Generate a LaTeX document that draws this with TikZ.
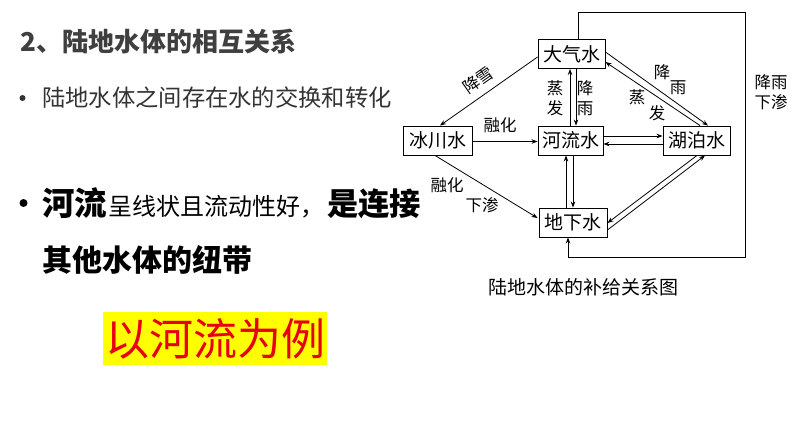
\documentclass[tikz,border=0pt]{standalone}
\usepackage{fontspec}
\setmainfont{Noto Sans CJK SC}
\usetikzlibrary{arrows.meta,calc}
\newcommand{\fsz}[1]{\fontsize{#1}{#1}\selectfont}
\definecolor{titlegray}{HTML}{3F3F3F}
\definecolor{bodygray}{HTML}{333333}
\definecolor{hlred}{HTML}{E60012}
\definecolor{hlyellow}{HTML}{FFFF00}
\tikzset{
  box/.style={draw, line width=0.9pt, inner sep=0pt, minimum height=29pt, font=\fsz{19}},
  lab/.style={inner sep=0pt, align=center, font=\fontsize{16.5}{20}\selectfont},
  flow/.style={line width=0.8pt, -{Stealth[length=6pt,width=4.5pt]}},
  txt/.style={inner sep=0pt, anchor=base west}
}
\begin{document}
\begin{tikzpicture}[x=1pt,y=-1pt]
\useasboundingbox (0,0) rectangle (794,447);
\fill[white] (0,0) rectangle (794,447);

% ---- left text ----
\node[txt, text=titlegray, font=\fsz{26}\bfseries] (title) at (20,51) {2、陆地水体的相互关系};
\fill[bodygray] (22.5,98) circle (3);
\node[txt, text=bodygray, font=\fsz{23.3}] (b1) at (42,106) {陆地水体之间存在水的交换和转化};
\fill (23.5,203) circle (4);
\node[txt] (b2) at (42,215) {{\fsz{32.5}\bfseries 河流}\hspace{1pt}{\fsz{24}呈线状且流动性好，}\hspace{3pt}{\fsz{31.3}\bfseries 是连接}};
\node[txt, font=\fsz{30}\bfseries] (b3) at (42,271) {其他水体的纽带};
\node[fill=hlyellow, text=hlred, inner sep=0pt, minimum width=224pt, minimum height=53pt, font=\fsz{44}] (ex) at (215,338.5) {以河流为例};

% ---- diagram nodes ----
\node[box, minimum width=67pt] (dq) at (571.5,54) {大气水};
\node[box, minimum width=69pt] (bc) at (437.5,140.5) {冰川水};
\node[box, minimum width=65pt] (hl) at (570.5,140.5) {河流水};
\node[box, minimum width=67pt] (hp) at (696.5,140.5) {湖泊水};
\node[box, minimum width=68pt] (dx) at (573,222.5) {地下水};

% ---- connectors ----
\draw[flow] ($(dq.west)+(0,3)$) -- ($(bc.north)+(2.5,0)$);
\draw[flow] ($(hl.north)+(-0.5,0)$) -- ($(dq.south)+(-1.5,0)$);
\draw[flow] ($(dq.south)+(4.5,0)$) -- ($(hl.north)+(5.5,0)$);
\draw[flow] ($(dq.east)+(0,-2)$) -- ($(hp.north)+(11.5,0)$);
\draw[flow] ($(hp.north)+(3.5,0)$) -- ($(dq.east)+(0,8)$);
\draw[flow] ($(hl.east)+(0,-4.5)$) -- ($(hp.west)+(0,-4.5)$);
\draw[flow] ($(hp.west)+(0,3.5)$) -- ($(hl.east)+(0,3.5)$);
\draw[flow] ($(bc.east)+(0,1)$) -- ($(hl.west)+(0,1)$);
\draw[flow] ($(bc.south)+(-2.5,0)$) -- ($(dx.west)+(-1,-4.5)$);
\draw[flow] ($(dx.north)+(-7,0)$) -- ($(hl.south)+(-4.5,0)$);
\draw[flow] ($(hl.south)+(2.5,0)$) -- ($(dx.north)+(0,0)$);
\draw[flow] ($(hp.south)+(0.5,0)$) -- ($(dx.east)+(0,0.5)$);
\draw[flow] ($(dx.east)+(0,7.5)$) -- ($(hp.south)+(8.5,0)$);
\coordinate (c2) at (745,12);
\coordinate (c3) at (745,257);
\draw[flow] ($(dq.north)+(6.5,0)$) |- (c2) -- (c3) -| ($(dx.south)+(-5,0)$);

% ---- labels ----
\node[lab, rotate=35] (l1) at (478,80) {降雪};
\node[lab] (l2) at (555,98) {蒸\\发};
\node[lab] (l3) at (585,98) {降\\雨};
\node[lab] (l4) at (662,72) {降};
\node[lab] (l5) at (678,88) {雨};
\node[lab] (l6) at (637,97) {蒸};
\node[lab] (l7) at (657,113) {发};
\node[lab] (l8) at (771,92) {降雨\\下渗};
\node[lab] (l9) at (500,125) {融化};
\node[lab] (l10) at (447,185) {融化};
\node[lab] (l11) at (482,205) {下渗};
\node[inner sep=0pt, font=\fsz{19}] (cap) at (583,287) {陆地水体的补给关系图};
\end{tikzpicture}
\end{document}
